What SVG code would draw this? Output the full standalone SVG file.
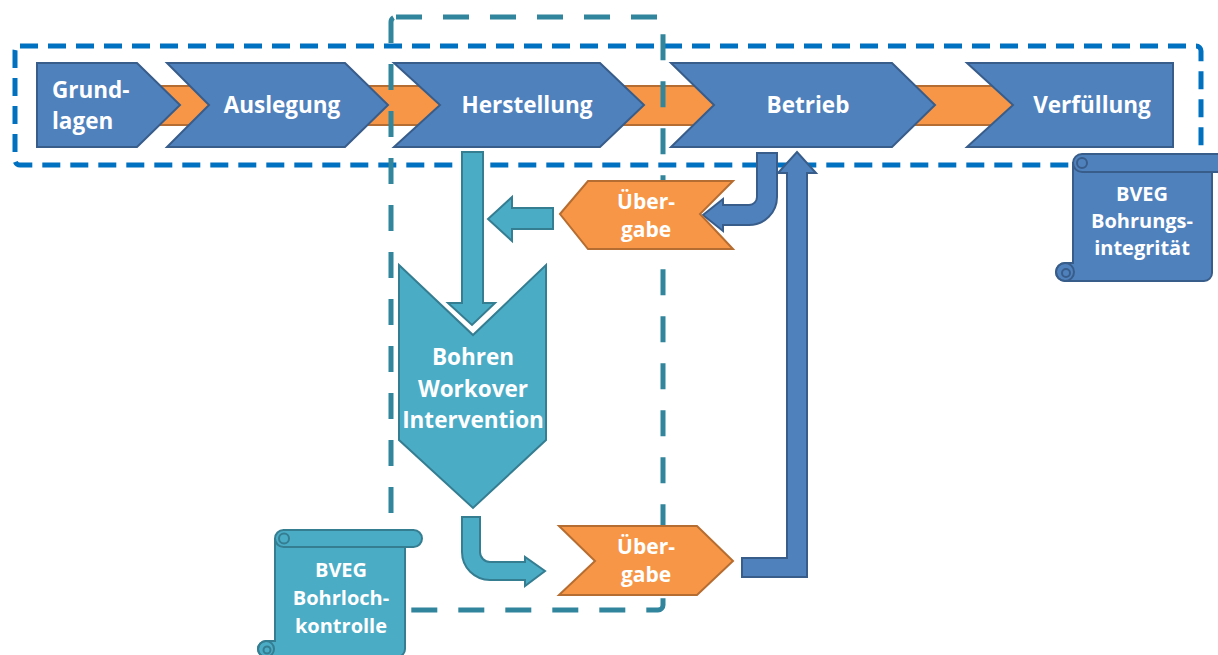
<svg xmlns="http://www.w3.org/2000/svg" width="1218" height="655" viewBox="0 0 1218 655">
<style>
.blue{fill:#4f81bd;stroke:#385d8a;stroke-width:2;stroke-linejoin:miter}
.orange{fill:#f79646;stroke:#b66d31;stroke-width:2}
.teal{fill:#4bacc6;stroke:#357d91;stroke-width:2}
.t{font-family:"Open Sans","Noto Sans","Liberation Sans",sans-serif;font-weight:bold;fill:#ffffff;text-anchor:middle}
.dashBlue{fill:none;stroke:#0070c0;stroke-width:5;stroke-dasharray:18 10}
.dashTeal{fill:none;stroke:#31859c;stroke-width:5;stroke-dasharray:26 21}
.curl{fill:none;stroke:#385d8a;stroke-width:2}
.curlT{fill:none;stroke:#357d91;stroke-width:2}
</style>
<rect width="1218" height="655" fill="#ffffff"/>

<g id="band">
<rect class="orange" x="150" y="86" width="864" height="39"/>
</g>

<g id="grundlagen">
<polygon class="blue" points="37,63 137,63 180,105 137,147 37,147"/>
<text class="t" style="text-anchor:start" font-size="22.5"><tspan x="52" y="98">Grund-</tspan><tspan x="52" y="129">lagen</tspan></text>
</g>
<g id="auslegung">
<polygon class="blue" points="167,63 345,63 388,105 345,147 167,147 209,105"/>
<text class="t" x="282" y="113" font-size="22.5">Auslegung</text>
</g>
<g id="herstellung">
<polygon class="blue" points="394,63 600,63 644,105 600,147 394,147 440,105"/>
<text class="t" x="527" y="113" font-size="22.5">Herstellung</text>
</g>
<g id="betrieb">
<polygon class="blue" points="671,63 892,63 935,105 892,147 671,147 714,105"/>
<text class="t" x="808" y="113" font-size="22.5">Betrieb</text>
</g>
<g id="verfuellung">
<polygon class="blue" points="967,63 1173,63 1173,147 967,147 1013,105"/>
<text class="t" x="1092" y="113" font-size="22.5">Verfüllung</text>
</g>

<g id="frames">
<rect class="dashBlue" x="15" y="46" width="1186" height="119" rx="5"/>
<rect class="dashTeal" x="391" y="17" width="272" height="593" rx="5"/>
</g>

<g id="connectors">
<path class="teal" d="M462,152 H483 V303 H495 L472,325 L448,303 H462 Z"/>
<path class="teal" d="M553,208 V229 H512 V241 L488,219 L512,197 V208 Z"/>
<path class="blue" d="M757,153 H777 V197 A28,28 0 0 1 749,225 H723 V231 L703,215 L723,199 V205 H749 A8,8 0 0 0 757,197 Z"/>
<path class="teal" d="M462,517 H480 V552 A10,10 0 0 0 490,562 H525 V557 L545,571 L525,586 V580 H490 A28,28 0 0 1 462,552 Z"/>
<path class="blue" d="M742,558 H787 V173 H778 L797,152 L816,173 H807 V577 H742 Z"/>
</g>

<g id="uebergabe-oben">
<polygon class="orange" points="560,214 588,181 733,181 700,214 733,249 588,249"/>
<text class="t" font-size="21"><tspan x="646" y="209">Über-</tspan><tspan x="646" y="237">gabe</tspan></text>
</g>

<g id="bohren">
<polygon class="teal" points="399,265 473,335 546,265 546,440 473,508 399,440"/>
<text class="t" font-size="22.5"><tspan x="473" y="365">Bohren</tspan><tspan x="473" y="397">Workover</tspan><tspan x="473" y="428">Intervention</tspan></text>
</g>

<g id="uebergabe-unten">
<polygon class="orange" points="559,526 697,526 733,561 697,595 559,595 595,561"/>
<text class="t" font-size="21"><tspan x="646" y="554">Über-</tspan><tspan x="646" y="582">gabe</tspan></text>
</g>

<g id="bveg-bohrungsintegritaet">
<path class="blue" d="M1073,163 V263 H1065 A9,9 0 0 0 1065,281 H1204 A8,8 0 0 0 1212,273 V163 Z"/>
<rect class="blue" x="1073" y="154" width="160" height="18" rx="9"/>
<circle class="curl" cx="1082" cy="163" r="5"/>
<circle class="curl" cx="1065" cy="272" r="9"/>
<circle class="curl" cx="1066" cy="273" r="4"/>
<text class="t" font-size="20"><tspan x="1142" y="201">BVEG</tspan><tspan x="1142" y="228">Bohrungs-</tspan><tspan x="1142" y="255">integrität</tspan></text>
</g>

<g id="bveg-bohrlochkontrolle">
<path class="teal" d="M275,539 V641 H266 A8,8 0 0 0 266,657 H397 A8,8 0 0 0 405,649 V539 Z"/>
<rect class="teal" x="275" y="530" width="147" height="17" rx="8.5"/>
<circle class="curlT" cx="284" cy="538.5" r="5"/>
<circle class="curlT" cx="266" cy="649" r="8"/>
<circle class="curlT" cx="267" cy="650" r="3.5"/>
<text class="t" font-size="20"><tspan x="341" y="577">BVEG</tspan><tspan x="341" y="605">Bohrloch-</tspan><tspan x="341" y="633">kontrolle</tspan></text>
</g>
</svg>
